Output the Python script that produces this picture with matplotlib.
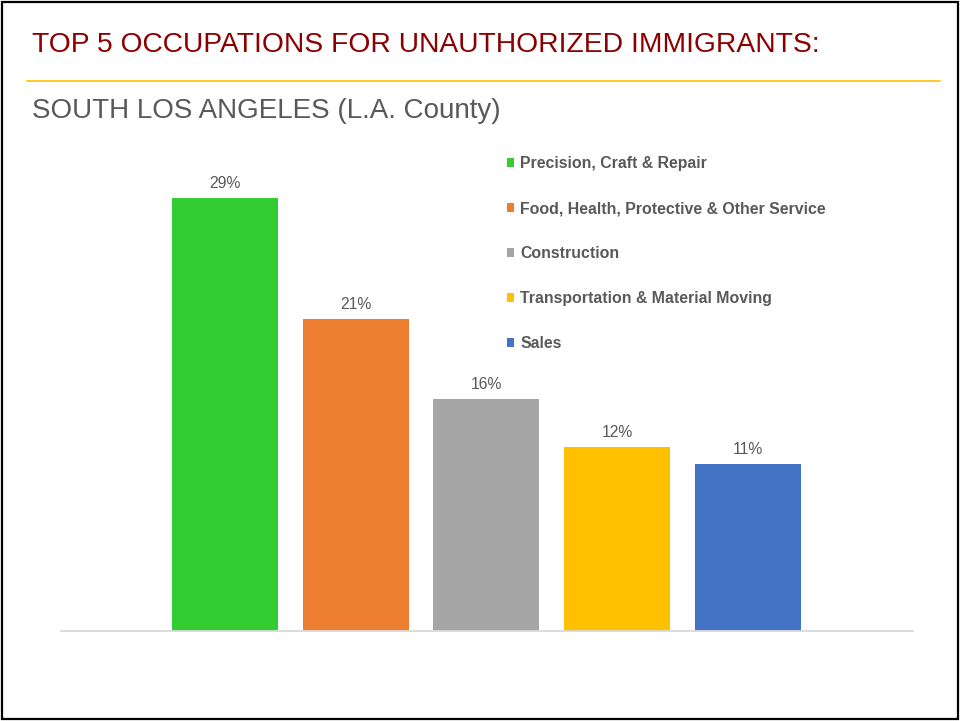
import matplotlib
matplotlib.use("Agg")
import matplotlib.pyplot as plt
from matplotlib.patches import Rectangle
from matplotlib.lines import Line2D

plt.rcParams['font.family'] = ['Liberation Sans', 'DejaVu Sans']

categories = ['Precision, Craft & Repair',
              'Food, Health, Protective & Other Service',
              'Construction',
              'Transportation & Material Moving',
              'Sales']
shares = [29.0, 20.9, 15.5, 12.3, 11.2]
share_labels = ['29%', '21%', '16%', '12%', '11%']
colors = ['#33CC33', '#ED7D31', '#A5A5A5', '#FFC000', '#4472C4']

title = 'TOP 5 OCCUPATIONS FOR UNAUTHORIZED IMMIGRANTS:'
subtitle = 'SOUTH LOS ANGELES (L.A. County)'

W, H = 960, 721
fig = plt.figure(figsize=(W / 100, H / 100), dpi=100)

# slide frame
fig.patches.append(Rectangle((2 / W, 2 / H), 956 / W, 717 / H, transform=fig.transFigure,
                             fill=False, edgecolor='black', lw=1.6))

fig.text(32 / W, 1 - 45 / H, title, color='#8B0000', fontsize=20.3,
         va='center', ha='left')
fig.lines.append(Line2D([27 / W, 940 / W], [1 - 81 / H, 1 - 81 / H],
                        transform=fig.transFigure, color='#FFC000', lw=1.2))
fig.text(32 / W, 1 - 111 / H, subtitle, color='#595959', fontsize=20,
         va='center', ha='left')

# plot area (pixel layout)
left, right, base, top = 61, 913, 630.7, 140
px_per_unit = 432.7 / 29.0
ax = fig.add_axes([left / W, 1 - base / H, (right - left) / W, (base - top) / H])

x = list(range(len(categories)))
bars = ax.bar(x, shares, width=0.81, color=colors, zorder=2)
for rect, lab in zip(bars.patches, share_labels):
    ax.annotate(lab, (rect.get_x() + rect.get_width() / 2, rect.get_height()),
                xytext=(0, 5), textcoords='offset points', ha='center', va='bottom',
                fontsize=11.3, color='#595959')

ax.set_xlim(-1.252, 5.26)
ax.set_ylim(0, (base - top) / px_per_unit)
for s in ['left', 'right', 'top']:
    ax.spines[s].set_visible(False)
ax.spines['bottom'].set_color('#D9D9D9')
ax.spines['bottom'].set_linewidth(1.3)
ax.set_xticks([])
ax.set_yticks([])

leg = fig.legend(bars.patches, categories, loc='upper left',
                 bbox_to_anchor=(507 / W, 1 - 156 / H), frameon=False,
                 borderpad=0, borderaxespad=0, handlelength=0.44, handleheight=0.44,
                 handletextpad=0.4, labelspacing=1.9,
                 prop={'size': 11.4, 'weight': 'bold'})
for t in leg.get_texts():
    t.set_color('#595959')

fig.savefig('out.png', dpi=100)
